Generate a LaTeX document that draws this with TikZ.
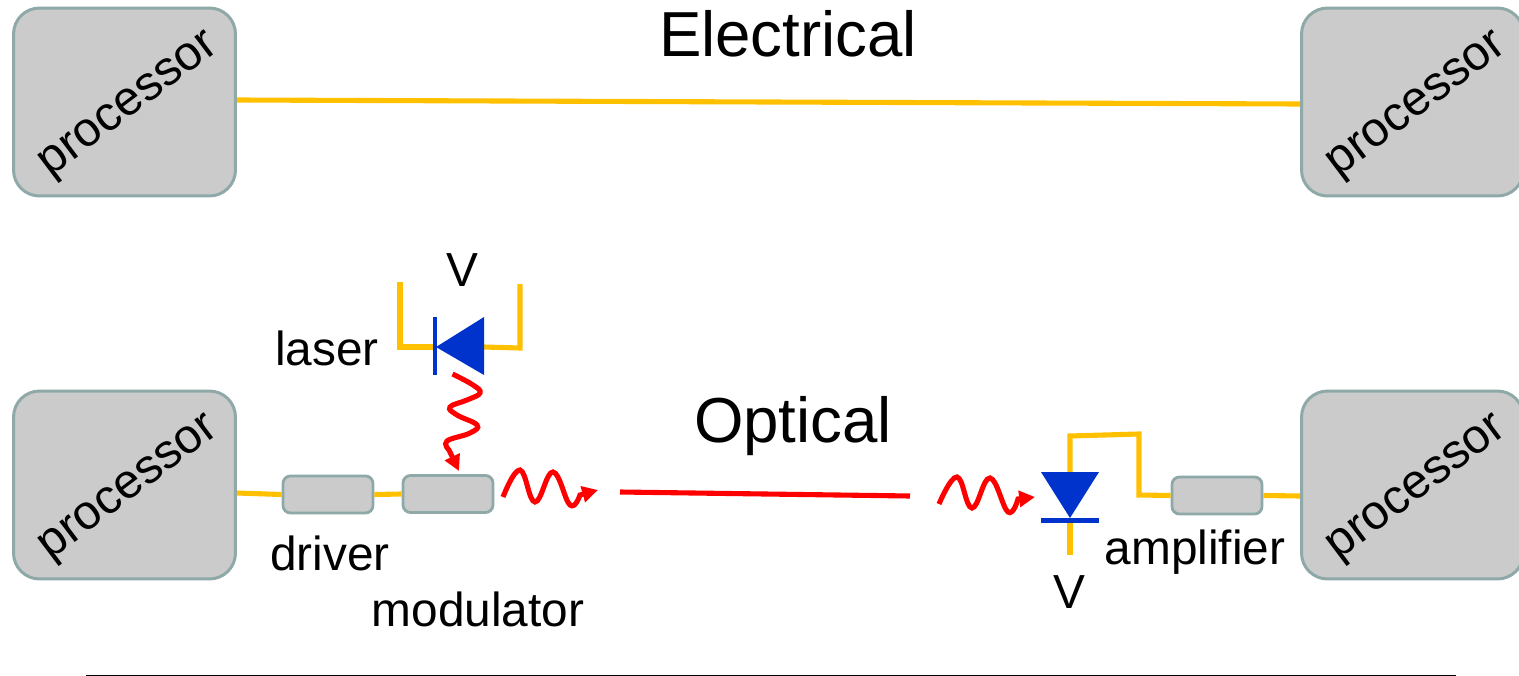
\documentclass[tikz,border=0pt]{standalone}
\usepackage{fontspec}
\setmainfont{Liberation Sans}
\usetikzlibrary{arrows.meta, positioning}

\definecolor{wireyellow}{HTML}{FFC000}
\definecolor{diodeblue}{HTML}{0033CC}
\definecolor{boxgray}{HTML}{CBCBCB}
\definecolor{boxedge}{HTML}{8FA8A8}

\tikzset{
    procbox/.style={draw=boxedge, fill=boxgray, line width=1.7pt, rounded corners=0.52cm, minimum width=4.44cm, minimum height=3.76cm, inner sep=0pt},
    smallbox/.style={draw=boxedge, fill=boxgray, line width=1.6pt, rounded corners=0.15cm, minimum width=1.8cm, minimum height=0.74cm, inner sep=0pt},
    wire/.style={wireyellow, line width=2.9pt},
    lightray/.style={red, line width=2.9pt},
    proctext/.style={font=\fontsize{27.5}{27}\selectfont, rotate=37},
    smalltext/.style={font=\fontsize{27.2}{27}\selectfont},
    bigtext/.style={font=\fontsize{36.2}{36}\selectfont}
}

\begin{document}
\begin{tikzpicture}[>={Triangle[length=9pt,width=9pt]}, x=0.02cm, y=-0.02cm]
    \useasboundingbox (0,0) rectangle (1519,676);

    % 1. Processors
    \foreach \name/\x/\y in {TL/124.5/102, TR/1412.5/102, BL/124.5/485, BR/1412.5/485} {
        \node[procbox] (proc\name) at (\x,\y) {};
        \node[proctext] (proctext\name) at (\x+6,\y+5) {processor};
    }

    % 2. Small boxes
    \node[smallbox] (driver) at (328,494.5) {};
    \node[smallbox] (modulator) at (448,494) {};
    \node[smallbox] (amplifier) at (1217,495.5) {};

    % 3. Labels
    \node[bigtext] (electrical) at (788,34) {Electrical};
    \node[bigtext] (optical) at (793,426) {Optical};
    \node[smalltext] (vlaser) at (462,270) {V};
    \node[smalltext] (laser) at (327,348) {laser};
    \node[smalltext] (driverlabel) at (330,553) {driver};
    \node[smalltext] (modulatorlabel) at (478,609) {modulator};
    \node[smalltext] (vdetector) at (1069,592) {V};
    \node[smalltext] (amplifierlabel) at (1195,552) {amplifier};

    % 4. Laser diode
    \coordinate (laserL) at (400,282);
    \coordinate (laserR) at (520,284);
    \coordinate (laserTip) at (436,347);
    \coordinate (laserBase) at (484,347);
    \draw[wire] (laserL) -- (400,347) -- (laserTip);
    \draw[wire] (laserR) -- (520,348) -- (laserBase);
    \fill[diodeblue] (484,317) -- (484,375) -- (laserTip) -- cycle;
    \draw[diodeblue, line width=2.8pt] (435,317) -- (435,375);

    % 5. Photodiode
    \coordinate (detBase) at (1070,472);
    \coordinate (detTip) at (1070,520);
    \coordinate (detV) at (1070,555);
    \draw[wire] (detTip) -- (detV);
    \draw[wire] (detBase) -- (1070,436) -- (1139,434) -- (1139,495) -- (amplifier.west);
    \fill[diodeblue] (1041,472) -- (1099,472) -- (1070,518) -- cycle;
    \draw[diodeblue, line width=2.8pt] (1041,520.5) -- (1099,520.5);

    % 6. Wires
    \draw[wire] ([shift={(0,-2)}]procTL.east) -- ([shift={(0,2)}]procTR.west);
    \draw[wire] ([shift={(0,8)}]procBL.east) -- (driver.west);
    \draw[wire] (driver.east) -- (modulator.west);
    \draw[wire] (amplifier.east) -- ([shift={(0,11)}]procBR.west);

    % 7. Light
    \coordinate (laserOut) at (452.5,374);
    \coordinate (modIn) at (459,471);
    \coordinate (modOut) at (503,497);
    \coordinate (rayEnd) at (598,490);
    \coordinate (fibreL) at (620,492);
    \coordinate (fibreR) at (910,496);
    \coordinate (detOut) at (939,504);
    \coordinate (detIn) at (1035,497);
    \draw[lightray, ->] plot[smooth, tension=0.7] coordinates {(laserOut) (473,385) (480,393) (467,400) (450,407) (457,415) (477,425) (470,433) (447,441) (449,450)} -- (modIn);
    \draw[lightray, ->] plot[smooth, tension=0.7] coordinates {(modOut) (520,470) (535,502) (553,472) (570,505) (580,495)} -- (rayEnd);
    \draw[lightray] (fibreL) -- (fibreR);
    \draw[lightray, ->] plot[smooth, tension=0.7] coordinates {(detOut) (957,477) (972,508) (990,478) (1008,512) (1018,499)} -- (detIn);

    % 8. Bottom rule
    \draw[line width=0.5pt] (86,675) -- (1456,675);
\end{tikzpicture}
\end{document}
